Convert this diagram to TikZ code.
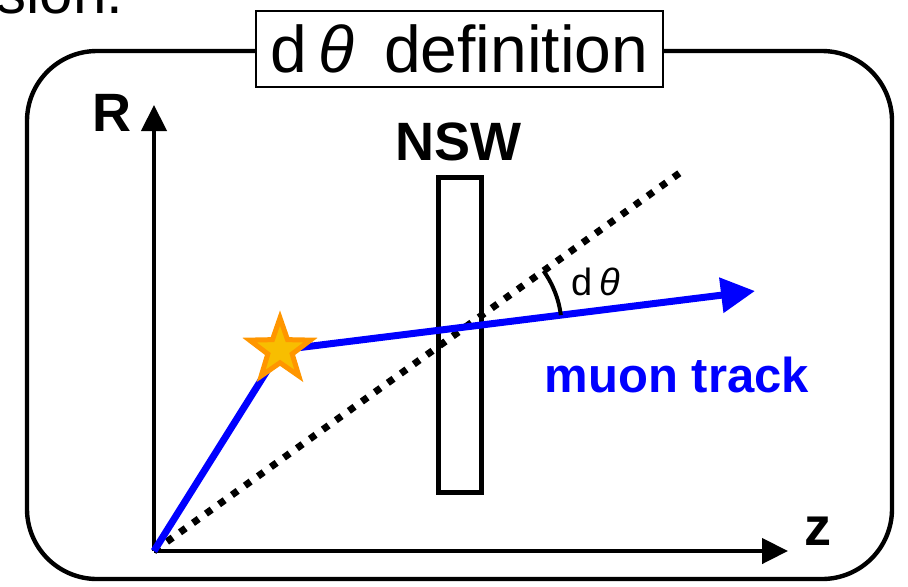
\documentclass[tikz,border=0pt]{standalone}
\usepackage{fontspec}
\setmainfont{Liberation Sans}
\usetikzlibrary{arrows.meta,shapes.geometric,calc}
\definecolor{trackblue}{RGB}{0,0,255}
\definecolor{starorange}{RGB}{255,150,0}
\definecolor{staryellow}{RGB}{248,190,0}

\begin{document}
\begin{tikzpicture}[
    x=0.5pt, y=0.5pt,
    outerFrame/.style={draw=black, line width=2.2pt, rounded corners=35pt,
                minimum width=432.5pt, minimum height=264pt, inner sep=0pt},
    titleBox/.style={draw=black, line width=1pt, fill=white, inner sep=0pt,
                minimum width=203.5pt, minimum height=38pt,
                font=\fontsize{33}{33}\selectfont},
    axis/.style={-{Triangle[length=13pt, width=12.5pt]}, line width=2.2pt},
    nswBox/.style={draw=black, line width=2.5pt, inner sep=0pt,
                minimum width=21.5pt, minimum height=157.5pt},
    refLine/.style={line width=3.5pt, dash pattern=on 3.5pt off 4.5pt},
    track/.style={-{Triangle[length=17pt, width=17pt]}, line width=3.5pt, trackblue},
    bigLabel/.style={font=\fontsize{27}{27}\selectfont\bfseries, inner sep=0pt},
    srcStar/.style={star, star points=5, star point ratio=2.5, minimum size=32pt,
                inner sep=0pt, fill=staryellow, draw=starorange, line width=2.5pt}
]
\useasboundingbox (0,0) rectangle (908,586);

% text cut off by the top edge
\node[anchor=base west, inner sep=0pt, font=\fontsize{30}{30}\selectfont] (prevtext) at (-4,573) {sion.};

\node[outerFrame] (frame) at (459.5,271) {};
\node[titleBox] (title) at (frame.north) {d\,\textit{θ}\hspace{0.45em}definition};

% axes
\coordinate (O) at (154,35);
\coordinate (Rtip) at (154,481);
\coordinate (Ztip) at (788,35);
\draw[axis] (O) -- (Rtip);
\draw[axis] (O) -- (Ztip);
\node[bigLabel] (Rlab) at (112,473) {R};
\node[bigLabel] (zlab) at (818,55) {z};

% detector
\node[nswBox] (nsw) at (459.5,251.5) {};
\node[bigLabel] (nswlab) at (458,444) {NSW};

% straight line from the origin and the track
\coordinate (D) at (681,414);
\coordinate (S) at (280,236);
\coordinate (T) at (755,295);
\draw[refLine] (O) -- (D);
\draw[track] (O) -- (S) -- (T);
\node[srcStar] (src) at (S) {};

\coordinate (X) at (intersection of O--D and S--T);
\draw[line width=2pt] ($(X)+(7.1:48pt)$) arc[start angle=7.1, end angle=35.7, radius=48pt];
\node[font=\fontsize{19}{19}\selectfont] (dlab) at (596,304) {d\,\textit{θ}};
\node[bigLabel, font=\fontsize{24.5}{24.5}\selectfont\bfseries, text=trackblue] (mulab) at (677,211) {muon track};
\end{tikzpicture}
\end{document}
